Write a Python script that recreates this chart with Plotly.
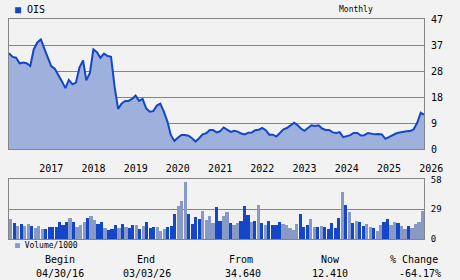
import pandas as pd
import plotly.graph_objects as go

# ---- data ----
start_month = "2016-05-01"
price = [34.6, 33.3, 33.0, 31.0, 31.3, 31.0, 30.0, 36.0, 38.5, 39.6,
         36.5, 33.5, 30.0, 29.0, 27.0, 24.5, 22.0, 25.0, 23.4, 24.0,
         29.5, 32.0, 24.8, 27.5, 36.0, 35.0, 33.0, 34.5, 33.6, 33.3,
         22.5, 14.5, 16.5, 17.4, 17.4, 18.1, 19.3, 17.4, 18.1, 14.7,
         13.5, 13.7, 15.7, 16.4, 13.5, 9.9, 5.1, 2.9, 4.1, 5.1,
         5.1, 4.8, 3.9, 2.7, 3.9, 5.3, 5.7, 6.9, 6.9, 6.0,
         6.4, 7.8, 7.0, 6.2, 6.6, 6.3, 5.6, 5.3, 5.9, 6.0,
         6.8, 7.0, 7.6, 6.8, 5.2, 5.2, 4.5, 5.8, 7.1, 7.6,
         8.6, 9.5, 8.7, 7.4, 6.6, 7.8, 8.6, 8.3, 8.6, 7.4,
         6.9, 6.9, 6.0, 5.8, 6.1, 4.3, 4.7, 5.0, 5.8, 5.8,
         4.9, 5.0, 5.8, 5.5, 5.3, 5.4, 5.3, 3.7, 4.4, 5.1,
         5.6, 6.0, 6.3, 6.4, 6.5, 7.1, 9.5, 13.1, 12.4]
volume = [19.2, 15.3, 12.4, 14.3, 12.4, 14.3, 12.4, 10.4, 12.4, 9.4,
          9.4, 11.4, 11.4, 11.4, 16.3, 13.4, 16.3, 20.2, 16.3, 11.4,
          13.4, 16.3, 20.2, 22.1, 18.2, 14.3, 16.3, 10.4, 8.5, 9.4,
          13.4, 10.4, 14.3, 11.4, 10.4, 13.4, 13.4, 9.4, 12.4, 16.3,
          10.4, 11.4, 11.4, 7.5, 9.4, 11.4, 12.4, 24.1, 31.9, 36.8,
          55.4, 24.1, 14.3, 21.2, 19.2, 27.0, 18.2, 22.1, 15.3, 30.9,
          17.3, 22.1, 26.1, 15.3, 13.4, 15.3, 17.3, 31.9, 23.1, 16.3,
          17.3, 32.9, 15.3, 13.4, 17.3, 13.4, 13.4, 16.3, 14.3, 13.4,
          10.4, 8.5, 14.3, 24.1, 11.4, 13.4, 19.2, 11.4, 11.4, 12.4,
          11.4, 9.4, 15.3, 10.4, 20.2, 45.6, 32.9, 26.1, 15.3, 17.3,
          16.3, 12.4, 14.3, 11.4, 10.4, 7.5, 13.4, 16.3, 19.2, 13.4,
          16.3, 15.3, 12.4, 9.4, 12.4, 10.4, 14.3, 16.3, 27.0]
# d = dark bar, l = light bar (one letter per month)
vol_shade = "".join([
    "ldldlldlll", "dddddddldl", "lldllddldd", "dldlddldld",
    "ddllldddll", "lddddlllld", "dlldlldddl", "dldlddddll",
    "llldddlldl", "dddddldldl", "ddlldllddl", "ldlldllll",
])
year_labels = [str(y) for y in range(2017, 2027)]
price_ticks = [0, 9.4, 18.8, 28.2, 37.6, 47]
price_tick_text = ["0", "9", "18", "28", "37", "47"]
vol_ticks = [0, 29, 58]
symbol = "OIS"
begin_date = "04/30/16"
end_date = "03/03/26"
from_val = 34.640
now_val = 12.410

dates = pd.date_range(start_month, periods=len(price), freq="MS")

DARK = "#1446c8"
LIGHT = "#8899c6"
FILL = "#9eb0dc"
BG = "#f2f2f2"
GRID = "#858585"
FONT = "DejaVu Sans Mono"

fig = go.Figure()
fig.add_trace(go.Scatter(x=dates, y=price, mode="lines",
                         line=dict(color=DARK, width=2),
                         fill="tozeroy", fillcolor=FILL,
                         xaxis="x", yaxis="y", hoverinfo="skip"))
fig.add_trace(go.Bar(x=dates, y=volume,
                     marker=dict(color=[DARK if c == "d" else LIGHT for c in vol_shade],
                                 line=dict(width=0)),
                     xaxis="x2", yaxis="y2", hoverinfo="skip"))

half = pd.Timedelta(days=15)
axis_common = dict(showline=True, linecolor=GRID, linewidth=1, mirror=True)
fig.update_layout(
    width=460, height=280,
    margin=dict(l=9, r=36, t=19, b=41),
    paper_bgcolor=BG, plot_bgcolor=BG,
    showlegend=False, bargap=0,
    font=dict(family=FONT, size=10, color="black"),
    xaxis=dict(domain=[0, 1], anchor="y", range=[dates[0], dates[-1]],
               tickvals=[pd.Timestamp(f"{y}-01-01") for y in year_labels],
               ticktext=year_labels, ticks="", ticklabelshift=14,
               ticklabelstandoff=10, showgrid=False,
               tickfont=dict(size=10), **axis_common),
    yaxis=dict(domain=[0.409, 1], anchor="x", side="right", range=[0, 47],
               tickvals=price_ticks, ticktext=price_tick_text,
               showgrid=True, gridcolor=GRID, gridwidth=1, zeroline=False,
               ticks="", ticklabelstandoff=4, tickfont=dict(size=10),
               **axis_common),
    xaxis2=dict(domain=[0, 1], anchor="y2",
                range=[dates[0] - half, dates[-1] + half],
                showticklabels=False, showgrid=False, ticks="",
                **axis_common),
    yaxis2=dict(domain=[0, 0.271], anchor="x2", side="right", range=[0, 58],
                tickvals=vol_ticks, showgrid=True, gridcolor=GRID,
                zeroline=False, ticks="", ticklabelstandoff=4,
                tickfont=dict(size=9), **axis_common),
)

def px(x):
    return (x - 9) / 415

def py(y):
    return (239 - y) / 220

ann = [
    (13, 9, f"<span style='color:{DARK}'>■</span> {symbol}", "left", 10),
    (356, 9, "Monthly", "center", 8),
    (13, 245, f"<span style='color:{LIGHT}'>■</span> Volume/1000", "left", 8),
    (60, 259, "Begin", "center", 10),
    (60, 273, begin_date, "center", 10),
    (146, 259, "End", "center", 10),
    (147, 273, end_date, "center", 10),
    (241, 259, "From", "center", 10),
    (243, 273, f"{from_val:.3f}", "center", 10),
    (330, 259, "Now", "center", 10),
    (330, 273, f"{now_val:.3f}", "center", 10),
    (414, 259, "% Change", "center", 10),
    (420, 273, f"{(now_val - from_val) / from_val * 100:.2f}%", "center", 10),
]
for x, y, t, anchor, size in ann:
    fig.add_annotation(x=px(x), y=py(y), xref="paper", yref="paper",
                       text=t, showarrow=False, xanchor=anchor,
                       yanchor="middle", font=dict(size=size, family=FONT))

fig.write_html("out.html")
